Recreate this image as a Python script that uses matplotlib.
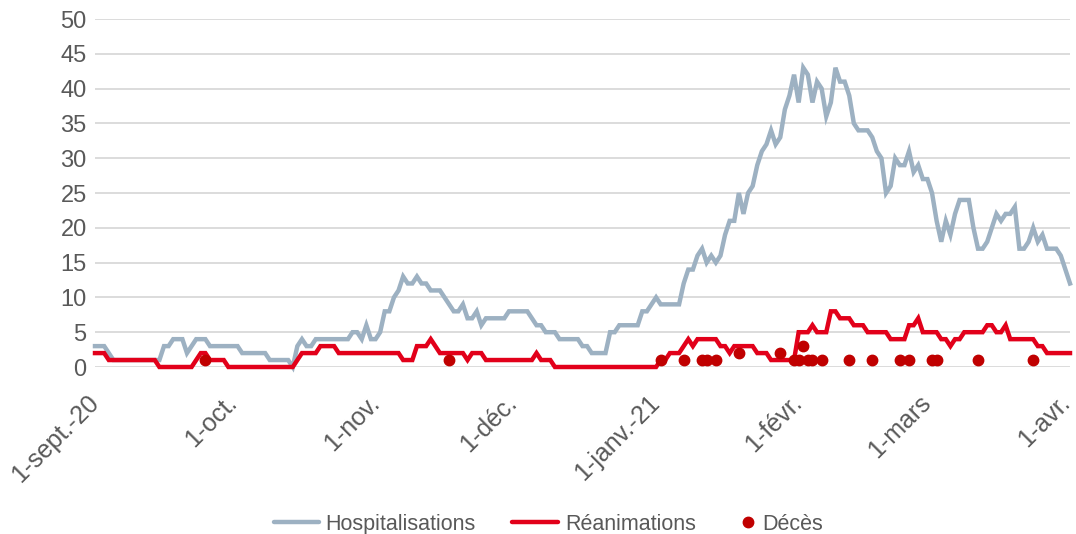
import matplotlib
matplotlib.use("Agg")
import matplotlib.pyplot as plt
from matplotlib.lines import Line2D
import matplotlib.transforms as mtransforms
import pandas as pd

plt.rcParams['font.family'] = ['Liberation Sans', 'DejaVu Sans']

start_date = "2020-09-01"

hospitalisations = [
    3, 3, 3, 2, 1, 1, 1, 1, 1, 1,
    1, 1, 1, 1, 1, 3, 3, 4, 4, 4,
    2, 3, 4, 4, 4, 3, 3, 3, 3, 3,
    3, 3, 2, 2, 2, 2, 2, 2, 1, 1,
    1, 1, 1, 0, 3, 4, 3, 3, 4, 4,
    4, 4, 4, 4, 4, 4, 5, 5, 4, 6,
    4, 4, 5, 8, 8, 10, 11, 13, 12, 12,
    13, 12, 12, 11, 11, 11, 10, 9, 8, 8,
    9, 7, 7, 8, 6, 7, 7, 7, 7, 7,
    8, 8, 8, 8, 8, 7, 6, 6, 5, 5,
    5, 4, 4, 4, 4, 4, 3, 3, 2, 2,
    2, 2, 5, 5, 6, 6, 6, 6, 6, 8,
    8, 9, 10, 9, 9, 9, 9, 9, 12, 14,
    14, 16, 17, 15, 16, 15, 16, 19, 21, 21,
    25, 22, 25, 26, 29, 31, 32, 34, 32, 33,
    37, 39, 42, 38, 43, 42, 38, 41, 40, 36,
    38, 43, 41, 41, 39, 35, 34, 34, 34, 33,
    31, 30, 25, 26, 30, 29, 29, 31, 28, 29,
    27, 27, 25, 21, 18, 21, 19, 22, 24, 24,
    24, 20, 17, 17, 18, 20, 22, 21, 22, 22,
    23, 17, 17, 18, 20, 18, 19, 17, 17, 17,
    16, 14, 12,
]

reanimations = [
    2, 2, 2, 1, 1, 1, 1, 1, 1, 1,
    1, 1, 1, 1, 0, 0, 0, 0, 0, 0,
    0, 0, 1, 2, 2, 1, 1, 1, 1, 0,
    0, 0, 0, 0, 0, 0, 0, 0, 0, 0,
    0, 0, 0, 0, 1, 2, 2, 2, 2, 3,
    3, 3, 3, 2, 2, 2, 2, 2, 2, 2,
    2, 2, 2, 2, 2, 2, 2, 1, 1, 1,
    3, 3, 3, 4, 3, 2, 2, 2, 2, 2,
    2, 1, 2, 2, 2, 1, 1, 1, 1, 1,
    1, 1, 1, 1, 1, 1, 2, 1, 1, 1,
    0, 0, 0, 0, 0, 0, 0, 0, 0, 0,
    0, 0, 0, 0, 0, 0, 0, 0, 0, 0,
    0, 0, 0, 1, 1, 2, 2, 2, 3, 4,
    3, 4, 4, 4, 4, 4, 3, 3, 2, 3,
    3, 3, 3, 3, 2, 2, 2, 1, 1, 1,
    1, 1, 1, 5, 5, 5, 6, 5, 5, 5,
    8, 8, 7, 7, 7, 6, 6, 6, 5, 5,
    5, 5, 5, 4, 4, 4, 4, 6, 6, 7,
    5, 5, 5, 5, 4, 4, 3, 4, 4, 5,
    5, 5, 5, 5, 6, 6, 5, 5, 6, 4,
    4, 4, 4, 4, 4, 3, 3, 2, 2, 2,
    2, 2, 2,
]

deces_dates = [
    "2020-09-25", "2020-11-17", "2021-01-02", "2021-01-07", "2021-01-11",
    "2021-01-12", "2021-01-14", "2021-01-19", "2021-01-28", "2021-01-31",
    "2021-02-01", "2021-02-02", "2021-02-03", "2021-02-04", "2021-02-06",
    "2021-02-12", "2021-02-17", "2021-02-23", "2021-02-25", "2021-03-02",
    "2021-03-03", "2021-03-12", "2021-03-24",
]
deces_values = [1, 1, 1, 1, 1, 1, 1, 2, 2, 1, 1, 3, 1, 1, 1, 1, 1, 1, 1, 1, 1, 1, 1]

tick_dates = ["2020-09-01", "2020-10-01", "2020-11-01", "2020-12-01",
              "2021-01-01", "2021-02-01", "2021-03-01", "2021-04-01"]
tick_labels = ["1-sept.-20", "1-oct.", "1-nov.", "1-déc.",
               "1-janv.-21", "1-févr.", "1-mars", "1-avr."]

y_ticks = list(range(0, 51, 5))

series_names = ["Hospitalisations", "Réanimations", "Décès"]

dates = pd.date_range(start_date, periods=len(hospitalisations), freq="D")
d_dates = pd.to_datetime(deces_dates)

GREY = "#9DB1C2"
RED = "#E2001A"
DOT = "#C00000"
TXT = "#595959"
GRID = "#D9D9D9"

W, H = 1076, 534
fig = plt.figure(figsize=(W / 100, H / 100), dpi=100)
ax = fig.add_axes([95 / W, 1 - 367 / H, (1070 - 95) / W, (367 - 19) / H])

ax.plot(dates, hospitalisations, color=GREY, lw=3.2, solid_joinstyle="miter",
        clip_on=False, zorder=3)
ax.plot(dates, reanimations, color=RED, lw=3.2, solid_joinstyle="miter",
        clip_on=False, zorder=4)
ax.plot(d_dates, deces_values, linestyle="none", marker="o", markersize=7.5,
        color=DOT, clip_on=False, zorder=5)

ax.set_xlim(dates[0], dates[-1])
ax.set_ylim(0, 50)
ax.set_yticks(y_ticks)
ax.set_xticks(pd.to_datetime(tick_dates))
ax.set_xticklabels(tick_labels, rotation=45, ha="right", va="center",
                   rotation_mode="anchor", fontsize=18)
ax.tick_params(axis="both", length=0, colors=TXT)
ax.tick_params(axis="y", pad=6, labelsize=17)
ax.tick_params(axis="x", pad=23)
ax.grid(axis="y", color=GRID, lw=1.3)
ax.set_axisbelow(True)
for s in ax.spines.values():
    s.set_visible(False)

# keep the last date label inside the picture
last_lbl = ax.get_xticklabels()[-1]
last_lbl.set_transform(last_lbl.get_transform() +
                       mtransforms.ScaledTranslation(-4 / 100, 0, fig.dpi_scale_trans))

# legend drawn in figure pixel positions
def fx(x):
    return x / W

def fy(y):
    return 1 - y / H

LY = 522
fig.add_artist(Line2D([fx(274), fx(319)], [fy(LY), fy(LY)], color=GREY, lw=3.2,
                      solid_capstyle="round", transform=fig.transFigure))
fig.text(fx(325), fy(LY), series_names[0], color=TXT, fontsize=15.5,
         ha="left", va="center_baseline")
fig.add_artist(Line2D([fx(512), fx(558)], [fy(LY), fy(LY)], color=RED, lw=3.2,
                      solid_capstyle="round", transform=fig.transFigure))
fig.text(fx(565), fy(LY), series_names[1], color=TXT, fontsize=15.5,
         ha="left", va="center_baseline")
fig.add_artist(Line2D([fx(748)], [fy(LY)], color=DOT, marker="o", markersize=7.5,
                      linestyle="none", transform=fig.transFigure))
fig.text(fx(762), fy(LY), series_names[2], color=TXT, fontsize=15.5,
         ha="left", va="center_baseline")

fig.savefig("out.png", dpi=100)
